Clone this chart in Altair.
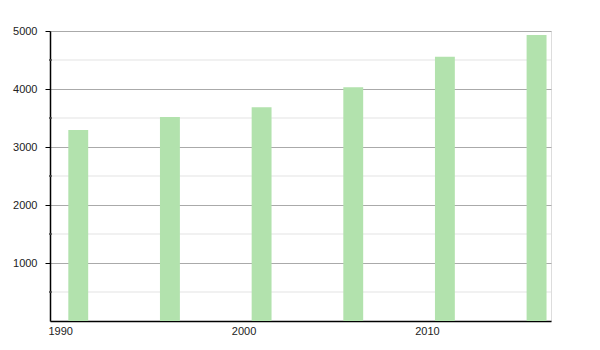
import altair as alt
import pandas as pd

years = [1991, 1996, 2001, 2006, 2011, 2016]
population = [3293, 3517, 3684, 4029, 4557, 4931]
major_ticks = [1000, 2000, 3000, 4000, 5000]
minor_ticks = [500, 1500, 2500, 3500, 4500]
x_label_years = [1990, 2000, 2010]

bars = pd.DataFrame({
    "start": [f"{y}-01-01" for y in years],
    "end": [f"{y + 1}-02-01" for y in years],
    "value": population,
})
minor_df = pd.DataFrame({"v": minor_ticks})

FONT = "Liberation Sans"
xscale = alt.Scale(domain=["1990-01-01", "2017-05-01"])
yscale = alt.Scale(domain=[0, 5000], nice=False)

y_axis = alt.Axis(values=major_ticks, format="d", grid=True, gridColor="#aaaaaa", gridWidth=1,
                  tickSize=5, tickColor="#000000", labelPadding=8,
                  labelFont=FONT, labelFontSize=11, labelColor="#222222",
                  domainColor="#000000", domainWidth=1.5)
x_axis = alt.Axis(values=[alt.DateTime(year=y) for y in x_label_years],
                  format="%Y", ticks=False, grid=False,
                  labelAlign="left", labelOffset=-2, labelPadding=4,
                  labelFont=FONT, labelFontSize=11, labelColor="#222222",
                  domainColor="#000000", domainWidth=1.5)

minor_grid = alt.Chart(minor_df).mark_rule(color="#e3e3e3", strokeWidth=1).encode(
    y=alt.Y("v:Q", scale=yscale, axis=y_axis, title=None),
    x=alt.value(0), x2=alt.value(501),
)

bar_layer = alt.Chart(bars).mark_bar(color="#b2e2ad").encode(
    x=alt.X("start:T", scale=xscale, title=None, axis=x_axis),
    x2="end:T",
    y=alt.Y("value:Q", scale=yscale, title=None, axis=y_axis),
    y2=alt.datum(0),
)

minor_tk = alt.Chart(minor_df).mark_rule(color="#000000", strokeWidth=1).encode(
    y=alt.Y("v:Q", scale=yscale, axis=y_axis, title=None),
    x=alt.value(-1), x2=alt.value(2),
)

chart = alt.layer(minor_grid, bar_layer, minor_tk).properties(
    width=501, height=290,
    autosize=alt.AutoSizeParams(type="none"),
    padding={"left": 50, "top": 31, "right": 49, "bottom": 29},
).configure_view(strokeWidth=0).configure(background="white")

chart.save("out.html", embed_options={"renderer": "svg", "actions": False})
